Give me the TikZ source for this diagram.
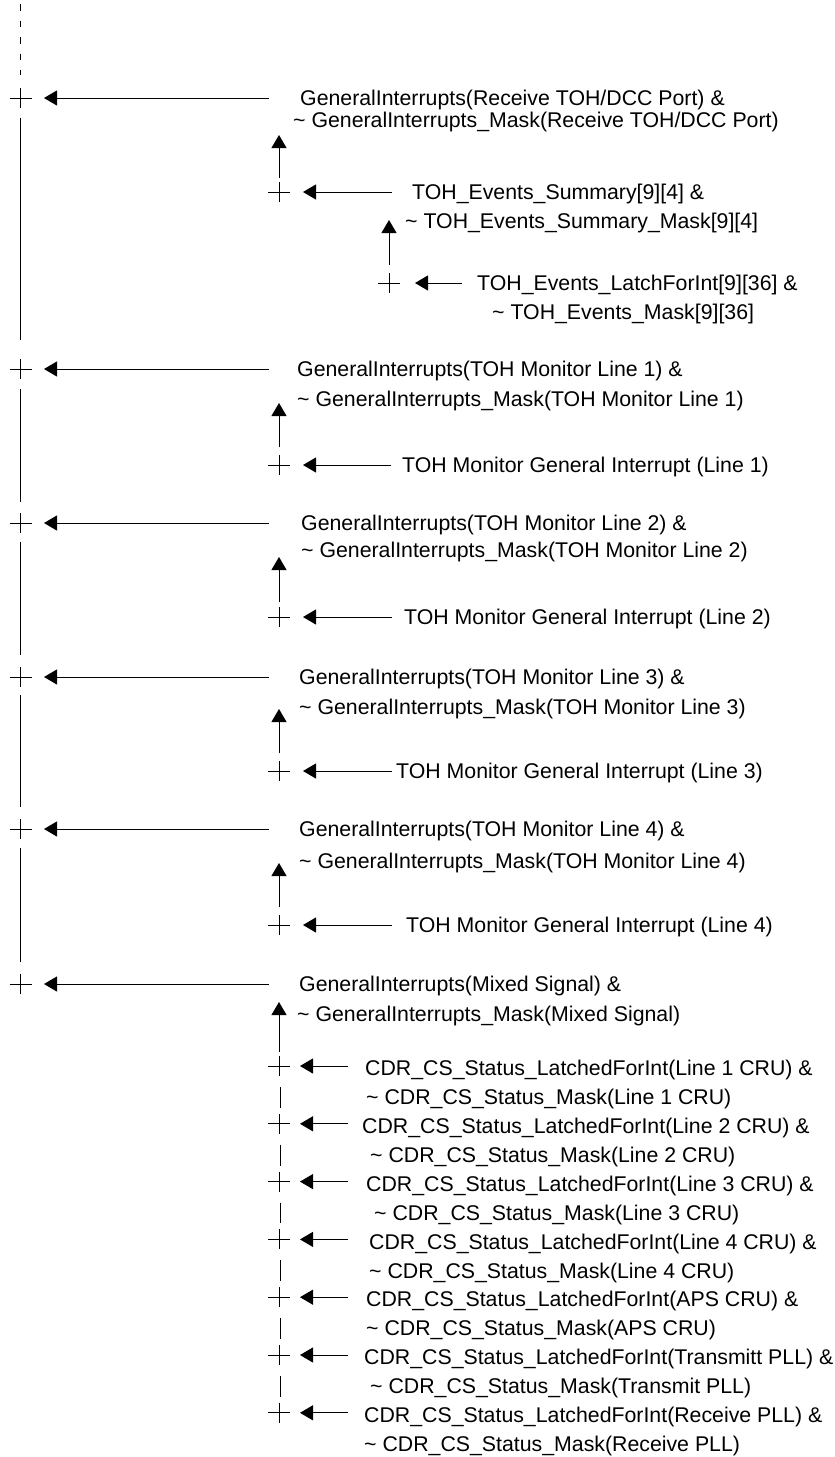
\documentclass[tikz,border=0pt]{standalone}
\usepackage{fontspec}
\setmainfont{Liberation Sans}
\usetikzlibrary{arrows.meta,calc}
\tikzset{
  ln/.style={line width=1pt},
  arr/.style={line width=1pt,-{Triangle[length=13pt,width=15pt]}},
  lbl/.style={anchor=west,inner sep=0pt,text height=15.3pt,text depth=0pt,
              font=\fontsize{21.3pt}{26pt}\selectfont},
  plus/.pic={\draw[line width=1pt] (-11,0) -- (11,0) (0,-10) -- (0,10);}
}
\begin{document}
\begin{tikzpicture}[x=1pt,y=-1pt]
\useasboundingbox (0,0) rectangle (835,1457);

% ---------- main bus ----------
\coordinate (m1) at (20.5,98);
\coordinate (m2) at (20.5,369);
\coordinate (m3) at (20.5,523);
\coordinate (m4) at (20.5,677);
\coordinate (m5) at (20.5,829);
\coordinate (m6) at (20.5,984);
\foreach \m in {m1,m2,m3,m4,m5,m6} \pic at (\m) {plus};
\draw[ln,dash pattern=on 6.5pt off 10pt] (20.5,4) -- (20.5,75);
\draw[ln] (20.5,118) -- (20.5,340);
\draw[ln] (20.5,389) -- (20.5,502);
\draw[ln] (20.5,542) -- (20.5,655);
\draw[ln] (20.5,695) -- (20.5,807);
\draw[ln] (20.5,848) -- (20.5,962);

% ---------- Receive TOH/DCC block ----------
\node[lbl] (r1) at (300,98) {GeneralInterrupts(Receive TOH/DCC Port) \&};
\node[lbl] (r2) at (293,120) {\textasciitilde{} GeneralInterrupts\_Mask(Receive TOH/DCC Port)};
\draw[arr] ([xshift=-31pt]r1.west) -- ([xshift=23.5pt]m1);

\coordinate (q0) at (279,192);
\pic at (q0) {plus};
\node[lbl] (s1) at (412,192) {TOH\_Events\_Summary[9][4] \&};
\node[lbl] (s2) at (405,221) {\textasciitilde{} TOH\_Events\_Summary\_Mask[9][4]};
\draw[arr] ([xshift=-20pt]s1.west) -- ([xshift=24pt]q0);
\draw[arr] ([yshift=14pt]q0) -- ([yshift=57pt]q0);

\coordinate (q00) at (389,283);
\pic at (q00) {plus};
\node[lbl] (t1) at (477,283) {TOH\_Events\_LatchForInt[9][36] \&};
\node[lbl] (t2) at (492,312) {\textasciitilde{} TOH\_Events\_Mask[9][36]};
\draw[arr] ([xshift=-15pt]t1.west) -- ([xshift=26pt]q00);
\draw[arr] ([yshift=18pt]q00) -- ([yshift=63pt]q00);

% ---------- TOH Monitor Line 1 ----------
\node[lbl] (a1) at (297,369) {GeneralInterrupts(TOH Monitor Line 1) \&};
\node[lbl] (a2) at (297,399) {\textasciitilde{} GeneralInterrupts\_Mask(TOH Monitor Line 1)};
\draw[arr] ([xshift=-28pt]a1.west) -- ([xshift=23.5pt]m2);
\coordinate (qa) at (279,465);
\pic at (qa) {plus};
\node[lbl] (g1) at (402,465) {TOH Monitor General Interrupt (Line 1)};
\draw[arr] ([xshift=-11pt]g1.west) -- ([xshift=24pt]qa);
\draw[arr] ([yshift=18pt]qa) -- ([yshift=62pt]qa);

% ---------- TOH Monitor Line 2 ----------
\node[lbl] (b1) at (301,523) {GeneralInterrupts(TOH Monitor Line 2) \&};
\node[lbl] (b2) at (301,550) {\textasciitilde{} GeneralInterrupts\_Mask(TOH Monitor Line 2)};
\draw[arr] ([xshift=-32pt]b1.west) -- ([xshift=23.5pt]m3);
\coordinate (qb) at (279,617);
\pic at (qb) {plus};
\node[lbl] (g2) at (404,617) {TOH Monitor General Interrupt (Line 2)};
\draw[arr] ([xshift=-12pt]g2.west) -- ([xshift=24pt]qb);
\draw[arr] ([yshift=15pt]qb) -- ([yshift=60pt]qb);

% ---------- TOH Monitor Line 3 ----------
\node[lbl] (c1) at (299,677) {GeneralInterrupts(TOH Monitor Line 3) \&};
\node[lbl] (c2) at (299,707) {\textasciitilde{} GeneralInterrupts\_Mask(TOH Monitor Line 3)};
\draw[arr] ([xshift=-30pt]c1.west) -- ([xshift=23.5pt]m4);
\coordinate (qc) at (279,771);
\pic at (qc) {plus};
\node[lbl] (g3) at (396,771) {TOH Monitor General Interrupt (Line 3)};
\draw[arr] ([xshift=-4pt]g3.west) -- ([xshift=24pt]qc);
\draw[arr] ([yshift=18pt]qc) -- ([yshift=62pt]qc);

% ---------- TOH Monitor Line 4 ----------
\node[lbl] (d1) at (299,829) {GeneralInterrupts(TOH Monitor Line 4) \&};
\node[lbl] (d2) at (299,861) {\textasciitilde{} GeneralInterrupts\_Mask(TOH Monitor Line 4)};
\draw[arr] ([xshift=-30pt]d1.west) -- ([xshift=23.5pt]m5);
\coordinate (qd) at (279,925);
\pic at (qd) {plus};
\node[lbl] (g4) at (406,925) {TOH Monitor General Interrupt (Line 4)};
\draw[arr] ([xshift=-14pt]g4.west) -- ([xshift=24pt]qd);
\draw[arr] ([yshift=18pt]qd) -- ([yshift=62pt]qd);

% ---------- Mixed Signal ----------
\node[lbl] (e1) at (299,984) {GeneralInterrupts(Mixed Signal) \&};
\node[lbl] (e2) at (297,1014) {\textasciitilde{} GeneralInterrupts\_Mask(Mixed Signal)};
\draw[arr] ([xshift=-30pt]e1.west) -- ([xshift=23.5pt]m6);

\coordinate (p1) at (279,1066);
\coordinate (p2) at (279,1123.8);
\coordinate (p3) at (279,1181.6);
\coordinate (p4) at (279,1239.4);
\coordinate (p5) at (279,1297.2);
\coordinate (p6) at (279,1355);
\coordinate (p7) at (279,1412.8);
\foreach \p in {p1,p2,p3,p4,p5,p6,p7} \pic at (\p) {plus};
\draw[arr] ([yshift=14pt]p1) -- ([yshift=64pt]p1);
\foreach \a/\b in {p1/p2,p2/p3,p3/p4,p4/p5,p5/p6,p6/p7}
  \draw[ln] ([xshift=1pt,yshift=-21pt]\a) -- ([xshift=1pt,yshift=16pt]\b);

\node[lbl] (k1) at (365,1068) {CDR\_CS\_Status\_LatchedForInt(Line 1 CRU) \&};
\node[lbl] (j1) at (366,1097) {\textasciitilde{} CDR\_CS\_Status\_Mask(Line 1 CRU)};
\node[lbl] (k2) at (362,1125.8) {CDR\_CS\_Status\_LatchedForInt(Line 2 CRU) \&};
\node[lbl] (j2) at (370,1154.8) {\textasciitilde{} CDR\_CS\_Status\_Mask(Line 2 CRU)};
\node[lbl] (k3) at (366,1183.6) {CDR\_CS\_Status\_LatchedForInt(Line 3 CRU) \&};
\node[lbl] (j3) at (374,1212.6) {\textasciitilde{} CDR\_CS\_Status\_Mask(Line 3 CRU)};
\node[lbl] (k4) at (369,1241.4) {CDR\_CS\_Status\_LatchedForInt(Line 4 CRU) \&};
\node[lbl] (j4) at (369,1270.4) {\textasciitilde{} CDR\_CS\_Status\_Mask(Line 4 CRU)};
\node[lbl] (k5) at (366,1299.2) {CDR\_CS\_Status\_LatchedForInt(APS CRU) \&};
\node[lbl] (j5) at (366,1328.2) {\textasciitilde{} CDR\_CS\_Status\_Mask(APS CRU)};
\node[lbl] (k6) at (364,1357) {CDR\_CS\_Status\_LatchedForInt(Transmitt PLL) \&};
\node[lbl] (j6) at (370,1386) {\textasciitilde{} CDR\_CS\_Status\_Mask(Transmit PLL)};
\node[lbl] (k7) at (364,1414.8) {CDR\_CS\_Status\_LatchedForInt(Receive PLL) \&};
\node[lbl] (j7) at (364,1443.8) {\textasciitilde{} CDR\_CS\_Status\_Mask(Receive PLL)};

\draw[arr] ($(p1 -| k1.west)+(-17,0)$) -- ([xshift=21pt]p1);
\draw[arr] ($(p2 -| k2.west)+(-14,0)$) -- ([xshift=21pt]p2);
\draw[arr] ($(p3 -| k3.west)+(-18,0)$) -- ([xshift=21pt]p3);
\draw[arr] ($(p4 -| k4.west)+(-21,0)$) -- ([xshift=21pt]p4);
\draw[arr] ($(p5 -| k5.west)+(-18,0)$) -- ([xshift=21pt]p5);
\draw[arr] ($(p6 -| k6.west)+(-16,0)$) -- ([xshift=21pt]p6);
\draw[arr] ($(p7 -| k7.west)+(-16,0)$) -- ([xshift=21pt]p7);
\end{tikzpicture}
\end{document}
